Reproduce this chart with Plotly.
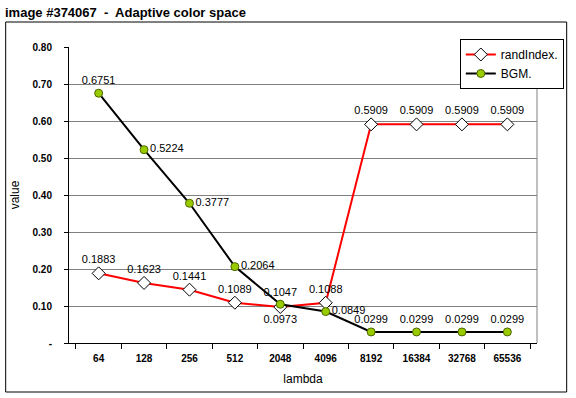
import plotly.graph_objects as go

categories = ["64", "128", "256", "512", "2048", "4096", "8192", "16384", "32768", "65536"]
rand_index = [0.1883, 0.1623, 0.1441, 0.1089, 0.0973, 0.1088, 0.5909, 0.5909, 0.5909, 0.5909]
bgm = [0.6751, 0.5224, 0.3777, 0.2064, 0.1047, 0.0849, 0.0299, 0.0299, 0.0299, 0.0299]
rand_pos = ["top center"] * 4 + ["bottom center"] + ["top center"] * 5
bgm_pos = ["top center", "middle right", "middle right", "middle right", "top center",
           "middle right", "top center", "top center", "top center", "top center"]
y_ticks = [0, 0.1, 0.2, 0.3, 0.4, 0.5, 0.6, 0.7, 0.8]
y_tick_text = ["-", "0.10", "0.20", "0.30", "0.40", "0.50", "0.60", "0.70", "0.80"]

W, H = 576, 398
L, R, T, B = 69, 542, 47, 343

def px_x(x):
    return (x - L) / (R - L)

def px_y(y):
    return (B - y) / (B - T)

font = "Liberation Sans, Arial, sans-serif"

fig = go.Figure()
fig.add_trace(go.Scatter(
    x=categories, y=rand_index, name="randIndex.", mode="lines+markers+text",
    line=dict(color="#FF0000", width=2),
    marker=dict(symbol="diamond", size=10, color="white", line=dict(color="black", width=1)),
    text=[f"{v:.4f}" for v in rand_index], textposition=rand_pos,
    textfont=dict(family=font, size=11, color="black"), cliponaxis=False,
))
fig.add_trace(go.Scatter(
    x=categories, y=bgm, name="BGM.", mode="lines+markers+text",
    line=dict(color="black", width=2),
    marker=dict(symbol="circle", size=8, color="#99CC00", line=dict(color="#4D6600", width=1)),
    text=[f"{v:.4f}" for v in bgm], textposition=bgm_pos,
    textfont=dict(family=font, size=11, color="black"), cliponaxis=False,
))

fig.update_layout(
    width=W, height=H,
    margin=dict(l=L, r=W - R, t=T, b=H - B),
    paper_bgcolor="white", plot_bgcolor="white",
    font=dict(family=font, size=11, color="black"),
    title=dict(text="<b>image #374067  -  Adaptive color space</b>", x=5 / W, xanchor="left",
               y=1 - 12 / H, yanchor="middle", font=dict(family=font, size=13, color="black")),
    showlegend=True,
    legend=dict(x=px_x(464), y=px_y(39), xanchor="left", yanchor="top",
                bordercolor="black", borderwidth=1, bgcolor="white",
                font=dict(family=font, size=12, color="black"),
                itemwidth=30, tracegroupgap=0),
    xaxis=dict(
        type="category", showline=True, linecolor="black", linewidth=1,
        ticks="outside", tickson="boundaries", ticklen=5, tickcolor="black",
        showgrid=False, tickfont=dict(family=font, size=10, color="black", weight="bold"),
        ticklabelstandoff=6,
        title=dict(text="lambda", font=dict(family=font, size=12), standoff=11),
    ),
    yaxis=dict(
        range=[0, 0.8], tickvals=y_ticks, ticktext=y_tick_text,
        showline=True, linecolor="black", linewidth=1,
        ticks="outside", ticklen=4, tickcolor="black",
        showgrid=True, gridcolor="#808080", gridwidth=1, zeroline=False,
        tickfont=dict(family=font, size=10, color="black", weight="bold"),
        ticklabelstandoff=10,
        title=dict(text="value", font=dict(family=font, size=12), standoff=10),
    ),
    shapes=[
        dict(type="rect", xref="paper", yref="paper",
             x0=px_x(5), x1=px_x(572), y0=px_y(392), y1=px_y(22),
             line=dict(color="black", width=1), fillcolor="rgba(0,0,0,0)", layer="below"),
        dict(type="line", xref="paper", yref="paper", x0=1, x1=1, y0=0, y1=1,
             line=dict(color="#808080", width=1)),
    ],
)

fig.write_html("out.html", config={"displayModeBar": False},
               post_script="document.body.style.margin='0';")
